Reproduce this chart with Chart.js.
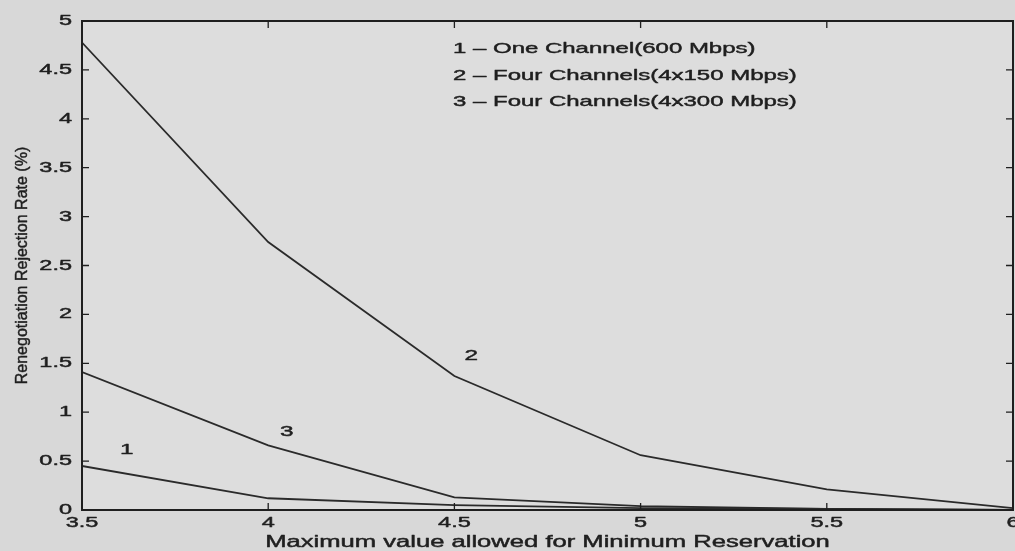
<!DOCTYPE html>
<html>
<head>
<meta charset="utf-8">
<script src="https://cdn.jsdelivr.net/npm/chart.js@4/dist/chart.umd.min.js"></script>
<style>
  html, body { margin: 0; padding: 0; background: #d8d8d8; }
  #wrap { width: 1015px; height: 551px; }
</style>
</head>
<body>
<div id="wrap"><canvas id="c" width="1015" height="551"></canvas></div>
<script>
// ---- data ----
const xValues = [3.5, 4, 4.5, 5, 5.5, 6];
const oneChannel600 = [0.45, 0.12, 0.05, 0.02, 0.01, 0.0];      // curve 1
const fourChannels150 = [4.78, 2.74, 1.37, 0.56, 0.21, 0.02];   // curve 2
const fourChannels300 = [1.41, 0.66, 0.13, 0.04, 0.01, 0.0];    // curve 3
const xTickLabels = ['3.5', '4', '4.5', '5', '5.5', '6'];
const yTickLabels = ['0', '0.5', '1', '1.5', '2', '2.5', '3', '3.5', '4', '4.5', '5'];
const legendLines = [
  '1 \u2013 One Channel(600 Mbps)',
  '2 \u2013 Four Channels(4x150 Mbps)',
  '3 \u2013 Four Channels(4x300 Mbps)'
];
const curveTags = ['1', '2', '3'];
const curveTagX = [3.62, 4.545, 4.05];
const curveTagY = [0.61, 1.58, 0.80];
const xTitle = 'Maximum value allowed for Minimum Reservation';
const yTitle = 'Renegotiation Rejection Rate (%)';

// ---- styling ----
const INK = '#1f1f1f';
const FONT = '"Liberation Sans", Arial, Helvetica, sans-serif';
const STRETCH = 1.62;   // scanned text appears horizontally widened

function pts(ys) { return xValues.map((x, i) => ({ x: x, y: ys[i] })); }

const lineStyle = {
  borderColor: '#2a2a2a', borderWidth: 1.8, pointRadius: 0, fill: false, tension: 0
};

const stretchText = {
  id: 'stretchText',
  beforeDraw(chart) {
    const ctx = chart.ctx;
    if (ctx.__wrapped) return;
    const orig = ctx.fillText;
    const origStroke = ctx.strokeText;
    ctx.fillText = function (t, x, y) {
      const m = this.getTransform();
      this.save();
      this.translate(x, y);
      if (!(Math.abs(m.b) > 1e-6 || Math.abs(m.c) > 1e-6)) this.scale(STRETCH, 1);
      this.strokeStyle = this.fillStyle;
      this.lineWidth = 0.45;
      this.lineJoin = 'round';
      orig.call(this, t, 0, 0);
      origStroke.call(this, t, 0, 0);
      this.restore();
    };
    ctx.__wrapped = true;
  }
};

const background = {
  id: 'background',
  beforeDraw(chart) {
    const { ctx, chartArea: a } = chart;
    ctx.save();
    ctx.fillStyle = '#d8d8d8';
    ctx.fillRect(0, 0, chart.width, chart.height);
    ctx.fillStyle = '#dddddd';
    ctx.fillRect(a.left, a.top, a.right - a.left, a.bottom - a.top);
    ctx.restore();
  }
};

const frame = {
  id: 'frame',
  afterDatasetsDraw(chart) {
    const { ctx, chartArea: a, scales } = chart;
    const xs = scales.x, ys = scales.y;
    ctx.save();
    ctx.strokeStyle = INK;
    ctx.lineWidth = 2;
    ctx.strokeRect(a.left, a.top, a.right - a.left, a.bottom - a.top);
    ctx.lineWidth = 1.3;
    const TL = 7;
    ctx.beginPath();
    xs.ticks.forEach(t => {
      const px = xs.getPixelForValue(t.value);
      ctx.moveTo(px, a.bottom); ctx.lineTo(px, a.bottom - TL);
      ctx.moveTo(px, a.top); ctx.lineTo(px, a.top + TL);
    });
    ys.ticks.forEach(t => {
      const py = ys.getPixelForValue(t.value);
      ctx.moveTo(a.left, py); ctx.lineTo(a.left + TL, py);
      ctx.moveTo(a.right, py); ctx.lineTo(a.right - TL, py);
    });
    ctx.stroke();

    // curve tags
    ctx.fillStyle = INK;
    ctx.font = '15px ' + FONT;
    ctx.textAlign = 'center';
    ctx.textBaseline = 'middle';
    curveTags.forEach((t, i) => {
      ctx.fillText(t, xs.getPixelForValue(curveTagX[i]), ys.getPixelForValue(curveTagY[i]));
    });

    // legend text block
    ctx.font = '14.8px ' + FONT;
    ctx.textAlign = 'left';
    legendLines.forEach((t, i) => {
      ctx.fillText(t, a.left + 371, a.top + 28 + i * 26.5);
    });
    ctx.restore();
  }
};

new Chart(document.getElementById('c'), {
  type: 'line',
  data: {
    datasets: [
      Object.assign({ label: legendLines[0], data: pts(oneChannel600) }, lineStyle),
      Object.assign({ label: legendLines[1], data: pts(fourChannels150) }, lineStyle),
      Object.assign({ label: legendLines[2], data: pts(fourChannels300) }, lineStyle)
    ]
  },
  options: {
    responsive: false,
    animation: false,
    events: [],
    layout: { padding: { top: 21, right: 2, left: 0, bottom: 0 } },
    plugins: { legend: { display: false }, tooltip: { enabled: false } },
    scales: {
      x: {
        type: 'linear', min: 3.5, max: 6,
        grid: { display: false, drawTicks: false },
        border: { display: false },
        ticks: {
          stepSize: 0.5, padding: 4, color: INK, maxRotation: 0, autoSkip: false,
          font: { family: FONT, size: 14.5 },
          callback: (v) => xTickLabels[Math.round((v - 3.5) / 0.5)]
        },
        title: {
          display: true, text: xTitle, color: INK,
          font: { family: FONT, size: 15.8, lineHeight: 1.0 }, padding: { top: 0, bottom: 0 }
        },
        afterFit(s) { s.height = 41; s.paddingLeft = 0; s.paddingRight = 0; }
      },
      y: {
        min: 0, max: 5,
        grid: { display: false, drawTicks: false },
        border: { display: false },
        ticks: {
          stepSize: 0.5, padding: 10, color: INK,
          font: { family: FONT, size: 14.5 },
          callback: (v) => yTickLabels[Math.round(v / 0.5)]
        },
        title: {
          display: true, text: yTitle, color: INK,
          font: { family: FONT, size: 16, lineHeight: 1.2 }, padding: { top: 13, bottom: 0 }
        },
        afterFit(s) { s.width = 82; s.paddingTop = 0; s.paddingBottom = 0; }
      }
    }
  },
  plugins: [stretchText, background, frame]
});
</script>
</body>
</html>
